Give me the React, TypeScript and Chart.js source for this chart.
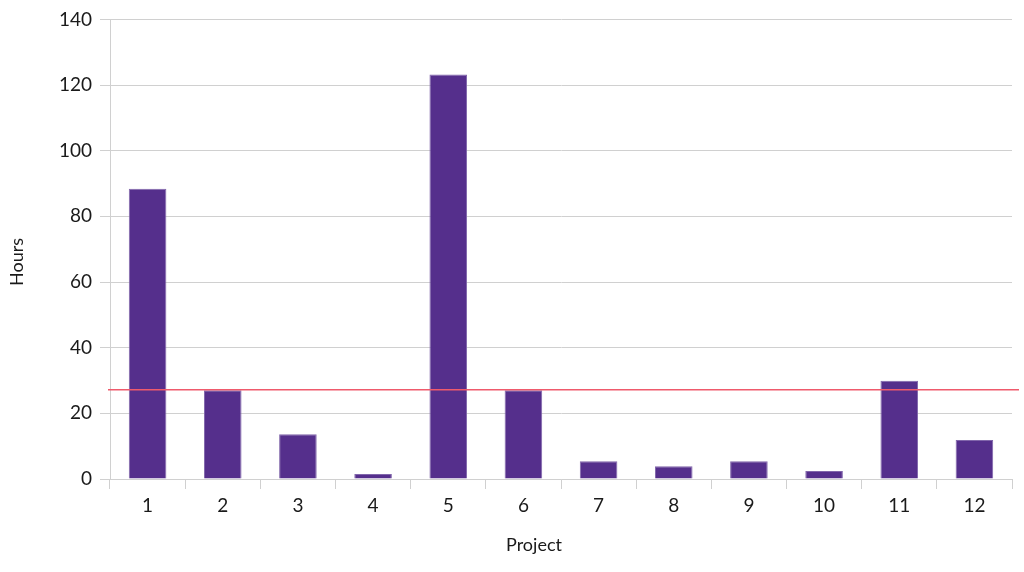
import React, { useEffect, useRef } from "react";
import { Chart, registerables } from "chart.js";

Chart.register(...registerables);

const projects: string[] = ["1", "2", "3", "4", "5", "6", "7", "8", "9", "10", "11", "12"];
const hours: number[] = [88.4, 27.0, 13.6, 1.5, 123.2, 27.0, 5.4, 3.9, 5.4, 2.4, 29.9, 11.9];
const averageHours = 27.2;
const yTicks: number[] = [0, 20, 40, 60, 80, 100, 120, 140];
const xTitle = "Project";
const yTitle = "Hours";

const GRID = "#d0d0d0";
const TEXT = "#1a1a1a";

const refLinePlugin = {
  id: "refLine",
  afterDatasetsDraw(chart: any) {
    const { ctx, chartArea, scales } = chart;
    const y = scales.y.getPixelForValue(averageHours);
    ctx.save();
    ctx.strokeStyle = "#ef5a6c";
    ctx.lineWidth = 1.5;
    ctx.beginPath();
    ctx.moveTo(chartArea.left - 2, y);
    ctx.lineTo(chartArea.right + 7, y);
    ctx.stroke();
    ctx.restore();
  },
};

const axisTitlesPlugin = {
  id: "axisTitles",
  afterDraw(chart: any) {
    const { ctx } = chart;
    ctx.save();
    ctx.fillStyle = TEXT;
    ctx.font = "18px Lato";
    ctx.textAlign = "center";
    ctx.textBaseline = "middle";
    ctx.fillText(xTitle, 534, 545);
    ctx.translate(17, 262);
    ctx.rotate(-Math.PI / 2);
    ctx.fillText(yTitle, 0, 0);
    ctx.restore();
  },
};

export default function App() {
  const ref = useRef<HTMLCanvasElement | null>(null);
  useEffect(() => {
    document.body.style.margin = "0";
    const canvas = ref.current!;
    const chart = new Chart(canvas, {
      type: "bar",
      data: {
        labels: projects,
        datasets: [
          {
            label: "Hours",
            data: hours,
            backgroundColor: "#552f8c",
            borderColor: "#8166ab",
            borderWidth: 1,
            barPercentage: 0.5,
            categoryPercentage: 1,
          },
        ],
      },
      options: {
        responsive: false,
        animation: false,
        maintainAspectRatio: false,
        layout: { padding: { top: 18, right: 12, left: 0, bottom: 0 } },
        plugins: {
          legend: { display: false },
          tooltip: { enabled: false },
        },
        scales: {
          x: {
            offset: true,
            grid: {
              offset: true,
              drawOnChartArea: true,
              color: (c: any) => (c.index === projects.length ? GRID : "rgba(0,0,0,0)"),
              tickColor: GRID,
              tickLength: 10,
              lineWidth: 1,
            },
            border: { display: true, color: GRID },
            ticks: {
              color: TEXT,
              padding: 5,
              font: { family: "Lato", size: 19 },
              maxRotation: 0,
            },
            title: { display: false },
            afterFit(scale: any) {
              scale.height = 93;
            },
          },
          y: {
            min: 0,
            max: 140,
            afterBuildTicks(scale: any) {
              scale.ticks = yTicks.map((v) => ({ value: v }));
            },
            grid: {
              color: GRID,
              tickColor: GRID,
              tickLength: 10,
              lineWidth: 1,
            },
            border: { display: true, color: GRID },
            ticks: {
              color: TEXT,
              padding: 8,
              font: { family: "Lato", size: 19 },
            },
            title: { display: false },
            afterFit(scale: any) {
              scale.width = 110;
            },
          },
        },
      },
      plugins: [refLinePlugin, axisTitlesPlugin],
    });
    return () => chart.destroy();
  }, []);
  return (
    <div style={{ position: "absolute", left: 0, top: 0, width: 1024, height: 572, background: "#fff" }}>
      <canvas ref={ref} width={1024} height={572} style={{ width: 1024, height: 572 }} />
    </div>
  );
}
